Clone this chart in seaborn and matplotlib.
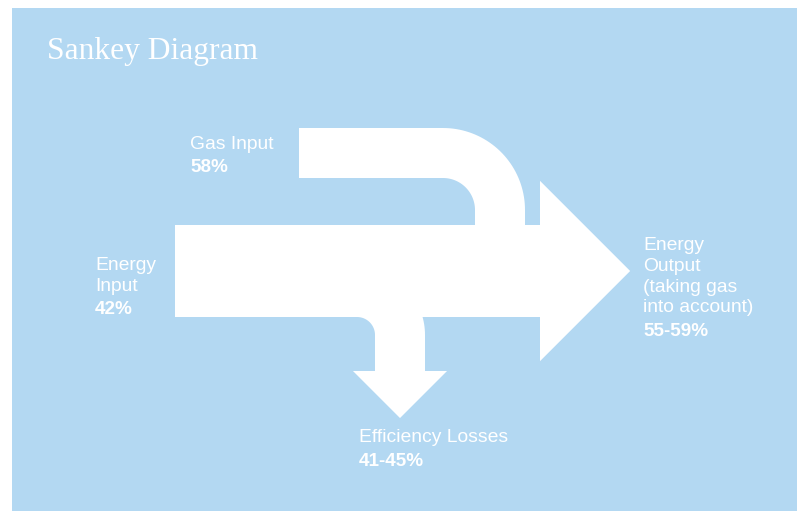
import numpy as np
import matplotlib
matplotlib.use("Agg")
import matplotlib.pyplot as plt
from matplotlib.path import Path
from matplotlib.patches import PathPatch
import seaborn as sns

# labels and values shown on the diagram
flow_names = ["Gas Input", "Energy\nInput", "Energy\nOutput\n(taking gas\ninto account)", "Efficiency Losses"]
flow_values = ["58%", "42%", "55-59%", "41-45%"]
title = "Sankey Diagram"

bg = "#b3d8f2"
sns.set_style("white", {"axes.facecolor": bg})

fig = plt.figure(figsize=(7.97, 5.11), dpi=100, facecolor="white")
ax = fig.add_axes([12 / 797, 0, 785 / 797, 503 / 511])
ax.set_xlim(12, 797)
ax.set_ylim(511, 8)
ax.set_xticks([])
ax.set_yticks([])
sns.despine(ax=ax, left=True, bottom=True)

# layout of the shapes (screen-like units, y down)
trunk_x0, trunk_x1 = 175, 540
trunk_top, trunk_h = 225, 92
side_w = 50            # width of gas band and loss band
head_ratio = 0.98      # arrowhead half-width relative to band width


def arc(cx, cy, r, t0, t1, n=40):
    t = np.linspace(t0, t1, n)
    return np.column_stack([cx + r * np.cos(t), cy - r * np.sin(t)])


def add_poly(pts):
    pts = np.asarray(pts, dtype=float)
    verts = np.vstack([pts, pts[:1]])
    codes = [Path.MOVETO] + [Path.LINETO] * (len(pts) - 1) + [Path.CLOSEPOLY]
    ax.add_patch(PathPatch(Path(verts, codes), facecolor="white", edgecolor="none", lw=0))


# main trunk with the output arrow
trunk_bot = trunk_top + trunk_h
mid = trunk_top + trunk_h / 2
head = trunk_h * head_ratio
add_poly([(trunk_x0, trunk_top), (trunk_x1, trunk_top), (trunk_x1, mid - head),
          (trunk_x1 + head, mid), (trunk_x1, mid + head), (trunk_x1, trunk_bot),
          (trunk_x0, trunk_bot)])

# gas input coming in from the top left and bending down into the trunk
gx0, gcx, r_in = 299, 443, 32
gcy = 128 + r_in + side_w
gas = [(gx0, gcy - r_in - side_w)]
gas += list(arc(gcx, gcy, r_in + side_w, np.pi / 2, 0))
gas += [(gcx + r_in + side_w, trunk_top + 2), (gcx + r_in, trunk_top + 2)]
gas += list(arc(gcx, gcy, r_in, 0, np.pi / 2))
gas += [(gx0, gcy - r_in)]
add_poly(gas)

# efficiency losses leaving the trunk bottom and pointing down
lr_in = 18
lcx, lcy = 375 - lr_in, trunk_bot + lr_in
stem_end = 371
loss = list(arc(lcx, lcy, lr_in + side_w, np.pi / 2, 0))
lx_r = lcx + lr_in + side_w
lx_l = lcx + lr_in
lmid = (lx_l + lx_r) / 2
lhead = side_w * head_ratio * 0.96
loss += [(lx_r, stem_end), (lmid + lhead, stem_end), (lmid, stem_end + lhead),
         (lmid - lhead, stem_end), (lx_l, stem_end)]
loss += list(arc(lcx, lcy, lr_in, 0, np.pi / 2))
add_poly(loss)

# text
ax.text(47, 59, title, color="white", fontsize=22.7, family=["Liberation Serif", "DejaVu Serif"],
        va="baseline", ha="left")

label_pos = [(190, 149), (95, 270), (643, 250), (359, 442)]
line_step = 20.8
value_gap = 23.5
for (x, y), name, val in zip(label_pos, flow_names, flow_values):
    lines = name.split("\n")
    for i, ln in enumerate(lines):
        ax.text(x, y + i * line_step, ln, color="white", fontsize=13.9,
                family=["Liberation Sans", "DejaVu Sans"], va="baseline", ha="left")
    ax.text(x, y + (len(lines) - 1) * line_step + value_gap, val, color="white", fontsize=13.6,
            fontweight="bold", family=["Liberation Sans", "DejaVu Sans"], va="baseline", ha="left")

fig.savefig("out.png", dpi=100, facecolor="white")
